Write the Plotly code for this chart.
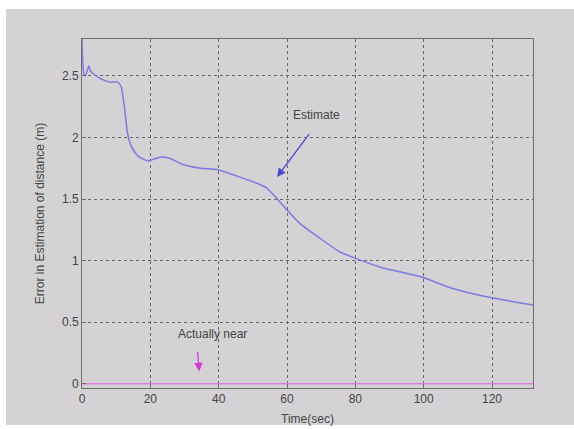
import plotly.graph_objects as go

# Estimated distance error over time (seconds, metres)
time_sec = [0.0, 0.5, 1.0, 2.0, 2.5, 3.2, 5.3, 8.0, 10.5, 11.5, 12.4, 13.3, 14.4,
            16.0, 17.5, 19.3, 22.8, 25.8, 29.6, 34.6, 39.5, 43.0, 47.0, 51.0,
            54.0, 56.5, 60.0, 63.8, 69.7, 75.5, 79.9, 88.1, 99.0, 107.8, 119.5, 132.0]
estimate_err = [2.80, 2.52, 2.50, 2.58, 2.54, 2.52, 2.48, 2.45, 2.45, 2.41, 2.25,
                2.04, 1.93, 1.86, 1.83, 1.81, 1.84, 1.83, 1.78, 1.75, 1.74, 1.71,
                1.67, 1.63, 1.59, 1.52, 1.41, 1.30, 1.18, 1.07, 1.02, 0.94, 0.87,
                0.78, 0.70, 0.64]

# Actual separation stays near zero for the whole run
actual_time = [0.0, 132.0]
actual_err = [0.0, 0.0]

x_ticks = [0, 20, 40, 60, 80, 100, 120]
y_ticks = [0, 0.5, 1, 1.5, 2, 2.5]

FONT = "Liberation Sans, Arial, sans-serif"
TXT = "#444444"

fig = go.Figure()
fig.add_trace(go.Scatter(x=actual_time, y=actual_err, mode="lines",
                         line=dict(color="#e27ee2", width=1.6),
                         showlegend=False, hoverinfo="skip"))
fig.add_trace(go.Scatter(x=time_sec, y=estimate_err, mode="lines",
                         line=dict(color="#7b7be0", width=1.5, shape="spline",
                                   smoothing=0.5),
                         showlegend=False))

# figure-window grey panel
fig.add_shape(type="rect", xref="paper", yref="paper",
              x0=-0.1685, x1=1.1, y0=-0.106, y1=1.086,
              fillcolor="#d4d2d5", line=dict(width=0), layer="below")

fig.add_annotation(x=68.5, y=2.18, xref="x", yref="y", text="Estimate",
                   showarrow=False, font=dict(family=FONT, size=12, color=TXT))
fig.add_annotation(x=57.1, y=1.68, ax=66.8, ay=2.04, xref="x", yref="y",
                   axref="x", ayref="y", text="", showarrow=True,
                   arrowhead=2, arrowsize=1.3, arrowwidth=1.3,
                   arrowcolor="#4a4ad0")
fig.add_annotation(x=38.2, y=0.40, xref="x", yref="y", text="Actually near",
                   showarrow=False, font=dict(family=FONT, size=12, color=TXT))
fig.add_annotation(x=34.3, y=0.10, ax=33.8, ay=0.27, xref="x", yref="y",
                   axref="x", ayref="y", text="", showarrow=True,
                   arrowhead=2, arrowsize=1.3, arrowwidth=1.3,
                   arrowcolor="#d63ad6")

axis_common = dict(showline=True, linecolor="#6e6e6e", linewidth=1, mirror=True,
                   showgrid=True, gridcolor="#666666", gridwidth=1,
                   griddash="3px,3px", automargin=False,
                   zeroline=False, ticks="inside", ticklen=4, tickcolor="#6e6e6e",
                   tickfont=dict(family=FONT, size=12, color=TXT))

fig.update_xaxes(range=[0, 132], tickvals=x_ticks,
                 title=dict(text="Time(sec)", font=dict(family=FONT, size=12, color=TXT),
                            standoff=9),
                 **axis_common)
fig.update_yaxes(range=[-0.035, 2.8], tickvals=y_ticks,
                 title=dict(text="Error in Estimation of distance (m)",
                            font=dict(family=FONT, size=12, color=TXT), standoff=14),
                 **axis_common)

fig.update_layout(width=574, height=429,
                  margin=dict(l=82, r=41, t=39, b=41),
                  paper_bgcolor="white", plot_bgcolor="white",
                  font=dict(family=FONT))

fig.write_html("out.html")
